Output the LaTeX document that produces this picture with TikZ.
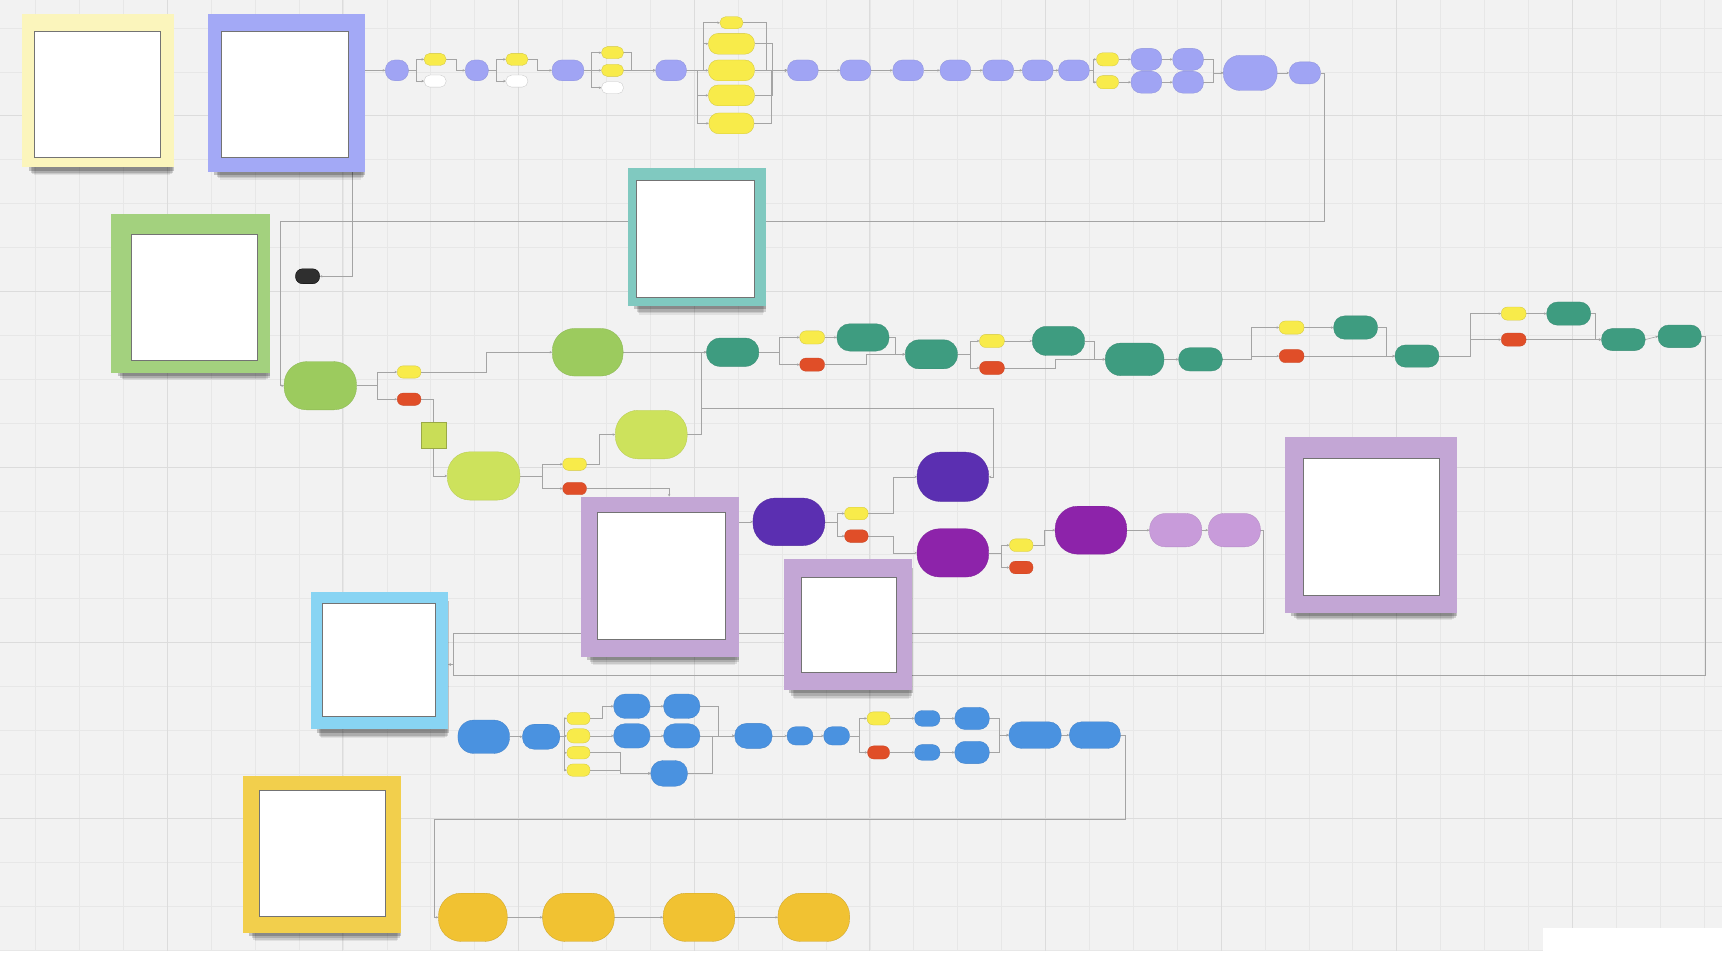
\documentclass[tikz,border=0pt]{standalone}
\usepackage{xcolor}
\usepackage{tikz}
\usetikzlibrary{arrows.meta, shadows}
\definecolor{canvas}{HTML}{F2F2F2}
\definecolor{gridlite}{HTML}{E7E7E7}
\definecolor{griddark}{HTML}{DCDCDC}
\definecolor{linkgray}{HTML}{A4A4A4}
\definecolor{notecream}{HTML}{FBF5BC}
\definecolor{notelav}{HTML}{A3A9F6}
\definecolor{notegreen}{HTML}{A3D17E}
\definecolor{noteteal}{HTML}{80C9C0}
\definecolor{notelilac}{HTML}{C3A6D5}
\definecolor{notesky}{HTML}{88D4F3}
\definecolor{notegold}{HTML}{F2CF4C}
\definecolor{nperi}{HTML}{A0A4F4}
\definecolor{nyellow}{HTML}{F8EB4A}
\definecolor{nred}{HTML}{E04E28}
\definecolor{nteal}{HTML}{3E9C80}
\definecolor{ngreen}{HTML}{9CCB5E}
\definecolor{nlime}{HTML}{CDE25C}
\definecolor{nviolet}{HTML}{5B2FB1}
\definecolor{nplum}{HTML}{8D23AA}
\definecolor{norchid}{HTML}{C89BDA}
\definecolor{nblue}{HTML}{4A92E0}
\definecolor{ngold}{HTML}{F1C232}
\definecolor{ncoal}{HTML}{2F2F2F}
\pgfdeclarelayer{grid}
\pgfdeclarelayer{links}
\pgfsetlayers{grid,links,main}

\begin{document}
\begin{tikzpicture}[
  x=1pt, y=-1pt,
  link/.style={-{Stealth[length=2.4pt, width=2.2pt]}, line width=.55pt, color=linkgray},
  minorline/.style={line width=.5pt, color=gridlite},
  majorline/.style={line width=.8pt, color=griddark},
  span/.style 2 args={minimum width=#1pt, minimum height=#2pt},
  dims/.style 2 args={minimum width=#1pt, minimum height=#2pt, rounded corners=0.47*#2pt},
  board/.style={rectangle, inner sep=0pt, outer sep=0pt, draw=none,
    general shadow={shadow xshift=4pt, shadow yshift=-16pt, shadow scale=.90, opacity=.07, fill=black},
    general shadow={shadow xshift=4pt, shadow yshift=-13pt, shadow scale=.92, opacity=.10, fill=black},
    general shadow={shadow xshift=4pt, shadow yshift=-10pt, shadow scale=.94, opacity=.14, fill=black},
    general shadow={shadow xshift=3pt, shadow yshift=-6pt, shadow scale=.96, opacity=.2, fill=black}},
  sheet/.style={rectangle, inner sep=0pt, fill=white, draw=black!55, line width=.5pt},
  flow/.style={rectangle, inner sep=0pt, outer sep=0pt, line width=.3pt},
  perinode/.style={flow, fill=nperi, draw=nperi!90!black},
  yellowtag/.style={flow, fill=nyellow, draw=nyellow!85!black},
  whitetag/.style={flow, fill=white, draw=black!22},
  redtag/.style={flow, fill=nred, draw=nred!90!black},
  coalnode/.style={flow, fill=ncoal, draw=black},
  tealnode/.style={flow, fill=nteal, draw=nteal!90!black},
  greennode/.style={flow, fill=ngreen, draw=ngreen!90!black},
  limenode/.style={flow, fill=nlime, draw=nlime!90!black},
  notesq/.style={flow, fill=nlime!95!olive, draw=nlime!75!black},
  violetnode/.style={flow, fill=nviolet, draw=nviolet!90!black},
  plumnode/.style={flow, fill=nplum, draw=nplum!90!black},
  orchidnode/.style={flow, fill=norchid, draw=norchid!90!black},
  bluenode/.style={flow, fill=nblue, draw=nblue!90!black},
  goldnode/.style={flow, fill=ngold, draw=ngold!85!black}
]
  \begin{pgfonlayer}{grid}
    \fill[canvas] (0,0) rectangle (1568,869);
    \foreach \gx in {32,72,...,1568} \draw[minorline] (\gx,0) -- (\gx,869);
    \foreach \gy in {25,65,...,869} \draw[minorline] (0,\gy) -- (1568,\gy);
    \foreach \gx in {152,312,...,1568} \draw[majorline] (\gx,0) -- (\gx,869);
    \foreach \gy in {105,265,...,869} \draw[majorline] (0,\gy) -- (1568,\gy);
    \fill[white] (0,866) rectangle (1568,869);
    \fill[white] (1405,845) rectangle (1568,869);
  \end{pgfonlayer}
  \useasboundingbox (0,0) rectangle (1568,869);

  \node[board, fill=notecream, span={138}{140}] (fyel) at (89,82) {};
  \node[sheet, span={115}{115}] (syel) at (88.5,85.5) {};
  \node[board, fill=notelav, span={143}{144}] (fpur) at (260.5,84) {};
  \node[sheet, span={116}{115}] (spur) at (259,85.5) {};
  \node[board, fill=notegreen, span={145}{144}] (fgrn) at (173.5,267) {};
  \node[sheet, span={115}{115}] (sgrn) at (176.5,270.5) {};
  \node[board, fill=noteteal, span={125}{125}] (fteal) at (634.5,215.5) {};
  \node[sheet, span={108}{106}] (steal) at (633,217) {};
  \node[board, fill=notelilac, span={144}{146}] (fA) at (601,525) {};
  \node[sheet, span={116}{115.5}] (sA) at (602,524.3) {};
  \node[board, fill=notelilac, span={117}{119}] (fB) at (771.9,568.5) {};
  \node[sheet, span={87}{87}] (sB) at (773,568.6) {};
  \node[board, fill=notelilac, span={157}{160}] (fC) at (1248.5,477.8) {};
  \node[sheet, span={124.5}{125}] (sC) at (1248.8,479.3) {};
  \node[board, fill=notesky, span={125.4}{125.3}] (flb) at (345.3,601.5) {};
  \node[sheet, span={103.5}{103.2}] (slb) at (344.8,600.4) {};
  \node[board, fill=notegold, span={143.6}{142.6}] (fgold) at (292.8,778) {};
  \node[sheet, span={115}{115.3}] (sgold) at (293,777.1) {};

  \node[perinode, dims={21}{19}] (p1) at (361.2,63.7) {};
  \node[yellowtag, dims={20}{11}] (ya1) at (396,53.7) {};
  \node[whitetag, dims={20}{11}] (wa1) at (396,73.5) {};
  \node[perinode, dims={21}{19}] (p2) at (434,63.7) {};
  \node[yellowtag, dims={20}{11}] (ya2) at (470.5,53.7) {};
  \node[whitetag, dims={20}{11}] (wa2) at (470.5,73.5) {};
  \node[perinode, dims={29}{19}] (p3) at (517,63.7) {};
  \node[yellowtag, dims={20}{11}] (yb1) at (557.6,47.6) {};
  \node[yellowtag, dims={20}{11}] (yb2) at (557.6,63.7) {};
  \node[whitetag, dims={20}{11}] (wb3) at (557.6,79.5) {};
  \node[perinode, dims={28}{19}] (p4) at (611,63.7) {};
  \node[yellowtag, dims={21}{11}] (yc1) at (666,20.3) {};
  \node[yellowtag, dims={42}{19}] (yc2) at (666,39.5) {};
  \node[yellowtag, dims={42}{19}] (yc3) at (666,63.7) {};
  \node[yellowtag, dims={42}{19}] (yc4) at (666,86.5) {};
  \node[yellowtag, dims={41}{19}] (yc5) at (666,112) {};
  \node[perinode, dims={28}{19}] (p5) at (731,63.7) {};
  \node[perinode, dims={28}{19}] (p6) at (779,63.7) {};
  \node[perinode, dims={28}{19}] (p7) at (827,63.7) {};
  \node[perinode, dims={28}{19}] (p8) at (870,63.7) {};
  \node[perinode, dims={28}{19}] (p9) at (909,63.7) {};
  \node[perinode, dims={28}{19}] (p10) at (945,63.7) {};
  \node[perinode, dims={28}{19}] (p11) at (978,63.7) {};
  \node[yellowtag, dims={20}{12}] (yd1) at (1008.6,53.7) {};
  \node[yellowtag, dims={20}{12}] (yd2) at (1008.6,74.5) {};
  \node[perinode, dims={28}{20}] (p12) at (1044,53.7) {};
  \node[perinode, dims={28}{20}] (p13) at (1082,53.7) {};
  \node[perinode, dims={28}{20}] (p14) at (1044,74.5) {};
  \node[perinode, dims={28}{20}] (p15) at (1082,74.5) {};
  \node[perinode, dims={49}{32}] (p16) at (1138.6,66) {};
  \node[perinode, dims={28.5}{20}] (p17) at (1188.4,66) {};
  \node[coalnode, dims={22}{13.7}] (k) at (279.8,251.3) {};

  \node[greennode, dims={66}{44}] (g1) at (291.4,351) {};
  \node[yellowtag, dims={21.6}{11.2}] (yg) at (372.3,338.5) {};
  \node[redtag, dims={21.6}{11.2}] (rg) at (372.3,363.3) {};
  \node[greennode, dims={64.5}{43.4}] (g2) at (535,320.5) {};
  \node[notesq, span={22.7}{23.4}] (nt) at (394.3,396) {};
  \node[limenode, dims={66.2}{44}] (g3) at (440.2,433.2) {};
  \node[yellowtag, dims={21.6}{11.2}] (yh) at (523.1,422.5) {};
  \node[redtag, dims={21.6}{11.2}] (rh) at (523.1,444.7) {};
  \node[limenode, dims={65.5}{44.3}] (g4) at (592.9,395.5) {};

  \node[tealnode, dims={47.5}{25.8}] (t1) at (667.1,320.5) {};
  \node[yellowtag, dims={22.6}{12}] (yt1) at (739.5,307) {};
  \node[redtag, dims={22.6}{12}] (rt1) at (739.5,331.8) {};
  \node[tealnode, dims={47.5}{24.9}] (t2) at (785.8,307) {};
  \node[tealnode, dims={47.5}{26.4}] (t3) at (848.1,322.4) {};
  \node[yellowtag, dims={22.6}{12}] (yt2) at (903.3,310.2) {};
  \node[redtag, dims={22.6}{12}] (rt2) at (903.3,334.8) {};
  \node[tealnode, dims={47.5}{26.4}] (t4) at (963.9,310.2) {};
  \node[tealnode, dims={53.4}{29.7}] (t5) at (1033.3,327) {};
  \node[tealnode, dims={39.8}{21.2}] (t6) at (1093.3,327) {};
  \node[yellowtag, dims={22.6}{12}] (yt3) at (1176.3,298) {};
  \node[redtag, dims={22.6}{12}] (rt3) at (1176.3,324) {};
  \node[tealnode, dims={40}{21.2}] (t7) at (1234.6,298) {};
  \node[tealnode, dims={40}{20.3}] (t8) at (1290.5,324) {};
  \node[yellowtag, dims={22.6}{12}] (yt4) at (1378.6,285.3) {};
  \node[redtag, dims={22.6}{12}] (rt4) at (1378.6,309) {};
  \node[tealnode, dims={40}{21.2}] (t9) at (1428.7,285.3) {};
  \node[tealnode, dims={39.7}{20}] (t10) at (1478.5,309) {};
  \node[tealnode, dims={39.4}{20.6}] (t11) at (1529.8,306) {};

  \node[violetnode, dims={65.5}{43.4}] (v0) at (718.3,475) {};
  \node[yellowtag, dims={21.4}{11.5}] (yv1) at (779.8,467.4) {};
  \node[redtag, dims={21.4}{11.5}] (rv1) at (779.8,488) {};
  \node[violetnode, dims={65.3}{45}] (v1) at (867.7,434) {};
  \node[plumnode, dims={65.3}{44}] (v2) at (867.7,503.3) {};
  \node[yellowtag, dims={21.4}{11.5}] (yv2) at (930,496.3) {};
  \node[redtag, dims={21.4}{11.5}] (rv2) at (930,516.6) {};
  \node[plumnode, dims={65.3}{43.7}] (v3) at (993.5,482.6) {};
  \node[orchidnode, dims={47.5}{30.4}] (l1) at (1070.7,482.6) {};
  \node[orchidnode, dims={47.5}{30.4}] (l2) at (1124.1,482.6) {};

  \node[bluenode, dims={47}{30.4}] (b1) at (440.3,670.8) {};
  \node[bluenode, dims={34}{22.8}] (b2) at (492.6,670.8) {};
  \node[yellowtag, dims={21}{11.2}] (ys1) at (526.6,654.1) {};
  \node[yellowtag, dims={21}{13}] (ys2) at (526.6,670) {};
  \node[yellowtag, dims={21}{11.2}] (ys3) at (526.6,685.4) {};
  \node[yellowtag, dims={21}{11.2}] (ys4) at (526.6,701.2) {};
  \node[bluenode, dims={33}{22.2}] (bb1) at (575.2,643) {};
  \node[bluenode, dims={33}{22.2}] (bb2) at (620.7,643) {};
  \node[bluenode, dims={33}{22.2}] (bb3) at (575.2,670) {};
  \node[bluenode, dims={33}{22.2}] (bb4) at (620.7,670) {};
  \node[bluenode, dims={33.4}{23.4}] (bb5) at (609.2,704.2) {};
  \node[bluenode, dims={34}{22.8}] (b3) at (686,670) {};
  \node[bluenode, dims={23.5}{16.7}] (b4) at (728.4,670) {};
  \node[bluenode, dims={23.5}{16.7}] (b5) at (761.8,670) {};
  \node[yellowtag, dims={21}{12}] (yb) at (800,654.1) {};
  \node[redtag, dims={20}{12}] (rb) at (800,685.1) {};
  \node[bluenode, dims={23}{14.3}] (bc1) at (844.4,654.1) {};
  \node[bluenode, dims={31.4}{20.3}] (bc2) at (885.2,654.1) {};
  \node[bluenode, dims={23}{14.3}] (bc3) at (844.4,685.1) {};
  \node[bluenode, dims={31.4}{20.3}] (bc4) at (885.2,685.1) {};
  \node[bluenode, dims={47.6}{24.3}] (b6) at (942.6,669.3) {};
  \node[bluenode, dims={46.5}{24.3}] (b7) at (997.1,669.3) {};

  \node[goldnode, dims={62.7}{44}] (o1) at (430.4,835.3) {};
  \node[goldnode, dims={65.3}{44}] (o2) at (526.6,835.3) {};
  \node[goldnode, dims={65.3}{44}] (o3) at (636.4,835.3) {};
  \node[goldnode, dims={65.3}{44}] (o4) at (741,835.3) {};

  \coordinate (jteal) at (638,372);

  \begin{pgfonlayer}{links}
    \draw[link] (p1.west -| fpur.east) -- (p1.west);
    \draw[link] (p1.east) -- ++(6.8,0) |- (ya1.west);
    \draw[link] (p1.east) -- ++(6.8,0) |- (wa1.west);
    \draw[link] (ya1.east) -- ++(9,0) |- (p2.west);
    \draw[link] (p2.east) -- ++(7.5,0) |- (ya2.west);
    \draw[link] (p2.east) -- ++(7.5,0) |- (wa2.west);
    \draw[link] (ya2.east) -- ++(8.2,0) |- (p3.west);
    \draw[link] (p3.east) -- ++(6.5,0) |- (yb1.west);
    \draw[link] (p3.east) -- (yb2.west);
    \draw[link] (p3.east) -- ++(6.5,0) |- (wb3.west);
    \draw[link] (yb1.east) -- ++(7.4,0) |- (p4.west);
    \draw[link] (yb2.east) -- (p4.west);
    \draw[link] (p4.east) -- ++(15.7,0) |- (yc1.west);
    \draw[link] (p4.east) -- ++(15.7,0) |- (yc2.west);
    \draw[link] (p4.east) -- (yc3.west);
    \draw[link] (p4.east) -- ++(10,0) |- (yc4.west);
    \draw[link] (p4.east) -- ++(10,0) |- (yc5.west);
    \draw[link] (yc1.east) -- ++(21,0) |- (p5.west);
    \draw[link] (yc2.east) -- ++(16,0) |- (p5.west);
    \draw[link] (yc3.east) -- (p5.west);
    \draw[link] (yc4.east) -- ++(16,0) |- (p5.west);
    \draw[link] (yc5.east) -- ++(16,0) |- (p5.west);
    \draw[link] (p5) -- (p6);
    \draw[link] (p6) -- (p7);
    \draw[link] (p7) -- (p8);
    \draw[link] (p8) -- (p9);
    \draw[link] (p9) -- (p10);
    \draw[link] (p10) -- (p11);
    \draw[link] (p11.east) -- ++(3.5,0) |- (yd1.west);
    \draw[link] (p11.east) -- ++(3.5,0) |- (yd2.west);
    \draw[link] (yd1) -- (p12);
    \draw[link] (yd2) -- (p14);
    \draw[link] (p12) -- (p13);
    \draw[link] (p14) -- (p15);
    \draw[link] (p13.east) -- ++(9,0) |- (p16.west);
    \draw[link] (p15.east) -- ++(9,0) |- (p16.west);
    \draw[link] (p16) -- (p17);
    \draw[link] (p17.east) -- ++(3.4,0) -- ++(0,135) -| ([xshift=-3.6pt]g1.west) -- (g1.west);
    \draw[link] ([xshift=60.1pt]fpur.south) |- (k.east);

    \draw[link] (g1.east) -- ++(19.3,0) |- (yg.west);
    \draw[link] (g1.east) -- ++(19.3,0) |- (rg.west);
    \draw[link] (yg.east) -- ++(59.9,0) |- (g2.west);
    \draw[link] (rg.east) -- ++(11.2,0) |- (g3.west);
    \draw[link] (g3.east) -- ++(19.9,0) |- (yh.west);
    \draw[link] (g3.east) -- ++(19.9,0) |- (rh.west);
    \draw[link] (yh.east) -- ++(11.6,0) |- (g4.west);
    \draw[link] (rh.east) -| ([xshift=8.2pt]fA.north);
    \draw[link] (v0.west -| fA.east) -- (v0.west);
    \draw[link] (g2) -- (t1);
    \draw[link] (g4.east) -- ++(12.4,0) |- (t1.west);
    \draw[link] (jteal) -| ([xshift=4.2pt]v1.east) -- (v1.east);

    \draw[link] (t1.east) -- ++(19,0) |- (yt1.west);
    \draw[link] (t1.east) -- ++(19,0) |- (rt1.west);
    \draw[link] (yt1) -- (t2);
    \draw[link] (t2.east) -- ++(6,0) |- (t3.west);
    \draw[link] (rt1.east) -- ++(38,0) |- (t3.west);
    \draw[link] (t3.east) -- ++(11.9,0) |- (yt2.west);
    \draw[link] (t3.east) -- ++(11.9,0) |- (rt2.west);
    \draw[link] (yt2) -- (t4);
    \draw[link] (t4.east) -- ++(8.9,0) |- (t5.west);
    \draw[link] (rt2.east) -- ++(46.3,0) |- (t5.west);
    \draw[link] (t5) -- (t6);
    \draw[link] (t6.east) -- ++(26.5,0) |- (yt3.west);
    \draw[link] (t6.east) -- ++(26.5,0) |- (rt3.west);
    \draw[link] (yt3) -- (t7);
    \draw[link] (t7.east) -- ++(8,0) |- (t8.west);
    \draw[link] (rt3) -- (t8);
    \draw[link] (t8.east) -- ++(28.7,0) |- (yt4.west);
    \draw[link] (t8.east) -- ++(28.7,0) |- (rt4.west);
    \draw[link] (yt4) -- (t9);
    \draw[link] (t9.east) -- ++(4.3,0) |- (t10.west);
    \draw[link] (rt4) -- (t10);
    \draw[link] (t10.east) -- (t11.west);
    \draw[link] (t11.east) -- ++(4,0) |- ([xshift=5pt,yshift=-13.5pt]flb.east) |- ([yshift=-3.5pt]flb.east);

    \draw[link] (v0.east) -- ++(11,0) |- (yv1.west);
    \draw[link] (v0.east) -- ++(11,0) |- (rv1.west);
    \draw[link] (yv1.east) -- ++(23.2,0) |- (v1.west);
    \draw[link] (rv1.east) -- ++(23.2,0) |- (v2.west);
    \draw[link] (v2.east) -- ++(11.3,0) |- (yv2.west);
    \draw[link] (v2.east) -- ++(11.3,0) |- (rv2.west);
    \draw[link] (yv2.east) -- ++(10.2,0) |- (v3.west);
    \draw[link] (v3) -- (l1);
    \draw[link] (l1) -- (l2);
    \draw[link] (l2.east) -- ++(3,0) |- ([xshift=5pt,yshift=24.8pt]flb.east) |- ([yshift=-3.5pt]flb.east);

    \draw[link] (b1) -- (b2);
    \draw[link] (b2.east) -- ++(4.5,0) |- (ys1.west);
    \draw[link] (b2.east) -- ++(4.5,0) |- (ys2.west);
    \draw[link] (b2.east) -- ++(4.5,0) |- (ys3.west);
    \draw[link] (b2.east) -- ++(4.5,0) |- (ys4.west);
    \draw[link] (ys1.east) -- ++(10.8,0) |- (bb1.west);
    \draw[link] (ys2) -- (bb3);
    \draw[link] (ys3.east) -- ++(27.5,0) |- (bb5.west);
    \draw[link] (ys4.east) -- ++(27.5,0) |- (bb5.west);
    \draw[link] (bb1) -- (bb2);
    \draw[link] (bb3) -- (bb4);
    \draw[link] (bb2.east) -- ++(16.4,0) |- (b3.west);
    \draw[link] (bb4) -- (b3);
    \draw[link] (bb5.east) -- ++(22.5,0) |- (b3.west);
    \draw[link] (b3) -- (b4);
    \draw[link] (b4) -- (b5);
    \draw[link] (b5.east) -- ++(9.3,0) |- (yb.west);
    \draw[link] (b5.east) -- ++(9.3,0) |- (rb.west);
    \draw[link] (yb) -- (bc1);
    \draw[link] (bc1) -- (bc2);
    \draw[link] (rb) -- (bc3);
    \draw[link] (bc3) -- (bc4);
    \draw[link] (bc2.east) -- ++(8.8,0) |- (b6.west);
    \draw[link] (bc4.east) -- ++(8.8,0) |- (b6.west);
    \draw[link] (b6) -- (b7);
    \draw[link] (b7.east) -- ++(4.4,0) |- ([xshift=-4pt,yshift=89.3pt]o1.west) |- (o1.west);
    \draw[link] (o1) -- (o2);
    \draw[link] (o2) -- (o3);
    \draw[link] (o3) -- (o4);
  \end{pgfonlayer}
\end{tikzpicture}
\end{document}
